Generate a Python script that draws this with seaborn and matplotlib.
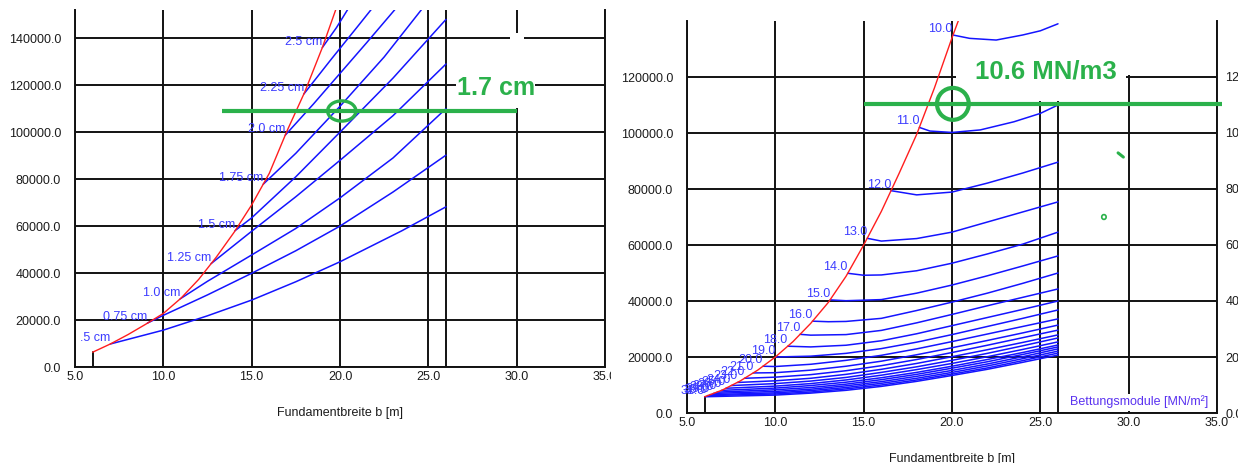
import matplotlib
matplotlib.use("Agg")
import matplotlib.pyplot as plt
from matplotlib.patches import Ellipse, Rectangle
import seaborn as sns

# ---------------------------------------------------------------- axes ticks
x_ticks = [5, 10, 15, 20, 25, 30, 35]
left_y_ticks = [0, 20000, 40000, 60000, 80000, 100000, 120000, 140000]
right_y_ticks = [0, 20000, 40000, 60000, 80000, 100000, 120000]
edge_b = 26.0          # largest foundation width in the tables
min_b = 6.0            # smallest foundation width in the tables

# ------------------------------------------- left chart: settlement iso-lines
left_limit_b = [6.0, 7.0, 8.0, 9.0, 10.0, 11.0, 12.0, 13.0, 14.0, 15.0, 16.0,
                17.0, 18.0, 19.0, 19.8]
left_limit_q = [6300, 9800, 13800, 18200, 22800, 29300, 37300, 46800, 57300,
                69000, 82500, 100500, 117000, 136000, 153000]

settle_labels = [".5 cm", "0.75 cm", "1.0 cm", "1.25 cm", "1.5 cm",
                 "1.75 cm", "2.0 cm", "2.25 cm", "2.5 cm"]
settle_b = [
    [7.0, 10.0, 12.5, 15.0, 17.5, 20.0, 23.5, 26.0],
    [9.1, 10.0, 12.5, 15.0, 17.5, 20.0, 23.0, 26.0],
    [10.95, 12.5, 15.0, 17.5, 20.0, 23.0, 26.0],
    [12.7, 15.0, 17.5, 20.0, 23.0, 26.0],
    [14.05, 15.0, 17.5, 20.0, 23.0, 26.0],
    [15.65, 17.5, 20.0, 22.5, 24.7],
    [16.9, 18.5, 20.0, 21.5, 23.2],
    [17.95, 19.5, 21.0, 21.85],
    [19.0, 19.8, 20.5],
]
settle_q = [
    [9800, 15700, 21800, 28500, 36300, 44800, 58000, 68200],
    [18700, 22000, 30700, 39900, 49500, 60000, 74500, 90200],
    [29000, 36500, 47700, 59000, 72000, 89000, 110000],
    [44000, 57800, 72500, 88000, 107000, 129000],
    [58000, 63500, 81000, 100000, 123000, 148000],
    [77800, 91000, 111000, 132000, 153000],
    [98700, 112000, 125000, 138000, 153000],
    [116200, 131000, 145000, 153000],
    [136000, 144500, 153000],
]
read_b_left = 20.1
read_q_left = 109000
read_line_left = [13.3, 30.0]
read_text_left = "1.7 cm"

# ------------------------------------- right chart: subgrade modulus iso-lines
right_limit_b = [6.0, 7.0, 8.0, 9.0, 10.0, 11.0, 12.0, 13.0, 14.0, 15.0, 16.0,
                 17.0, 18.0, 19.0, 20.0, 20.5]
right_limit_q = [5800, 8200, 11400, 15300, 20000, 25500, 32000, 39500, 48800,
                 60000, 72000, 85500, 99500, 116000, 134000, 142500]

ks_values = [10.0, 11.0, 12.0, 13.0, 14.0, 15.0, 16.0, 17.0, 18.0, 19.0, 20.0,
             21.0, 22.0, 23.0, 24.0, 25.0, 26.0, 27.0, 28.0, 29.0, 30.0, 31.0]
ks_b = [
    [20.05, 21.0, 22.5, 24.0, 25.0, 26.0],
    [18.15, 18.75, 20.0, 21.6, 23.5, 25.0, 26.0],
    [16.55, 18.0, 20.0, 22.0, 24.0, 26.0],
    [15.2, 16.0, 18.0, 20.0, 22.0, 24.0, 26.0],
    [14.1, 15.0, 16.0, 18.0, 20.0, 22.0, 24.0, 26.0],
    [13.1, 14.0, 16.0, 18.0, 20.0, 22.0, 24.0, 26.0],
    [12.1, 13.0, 14.0, 16.0, 18.0, 20.0, 22.0, 24.0, 26.0],
    [11.4, 12.0, 14.0, 16.0, 18.0, 20.0, 22.0, 24.0, 26.0],
    [10.7, 12.0, 14.0, 16.0, 18.0, 20.0, 22.0, 24.0, 26.0],
    [10.0, 12.0, 14.0, 16.0, 18.0, 20.0, 22.0, 24.0, 26.0],
    [9.3, 10.0, 12.0, 14.0, 16.0, 18.0, 20.0, 22.0, 24.0, 26.0],
    [8.75, 10.0, 12.0, 14.0, 16.0, 18.0, 20.0, 22.0, 24.0, 26.0],
    [8.25, 10.0, 12.0, 14.0, 16.0, 18.0, 20.0, 22.0, 24.0, 26.0],
    [7.85, 10.0, 12.0, 14.0, 16.0, 18.0, 20.0, 22.0, 24.0, 26.0],
    [7.5, 10.0, 12.0, 14.0, 16.0, 18.0, 20.0, 22.0, 24.0, 26.0],
    [7.2, 10.0, 12.0, 14.0, 16.0, 18.0, 20.0, 22.0, 24.0, 26.0],
    [6.95, 10.0, 12.0, 14.0, 16.0, 18.0, 20.0, 22.0, 24.0, 26.0],
    [6.7, 10.0, 12.0, 14.0, 16.0, 18.0, 20.0, 22.0, 24.0, 26.0],
    [6.5, 10.0, 12.0, 14.0, 16.0, 18.0, 20.0, 22.0, 24.0, 26.0],
    [6.3, 10.0, 12.0, 14.0, 16.0, 18.0, 20.0, 22.0, 24.0, 26.0],
    [6.15, 10.0, 12.0, 14.0, 16.0, 18.0, 20.0, 22.0, 24.0, 26.0],
    [6.0, 10.0, 12.0, 14.0, 16.0, 18.0, 20.0, 22.0, 24.0, 26.0],
]
ks_q = [
    [135000, 133800, 133200, 135000, 136500, 139000],
    [102000, 100700, 100200, 101100, 104000, 107000, 110000],
    [79400, 77900, 78900, 82100, 85700, 89600],
    [62400, 61400, 62300, 64600, 68200, 71800, 75400],
    [49900, 49200, 49300, 50800, 53500, 56800, 60300, 64600],
    [40400, 40100, 40500, 42800, 45700, 49000, 52500, 56100],
    [32800, 32600, 32700, 33800, 36600, 39600, 42800, 46300, 50000],
    [28100, 27800, 28000, 29500, 32200, 35200, 38300, 41300, 44300],
    [23850, 23600, 24200, 25800, 28300, 31200, 34100, 37000, 40000],
    [20000, 20300, 21300, 23000, 25300, 28000, 30900, 33800, 36800],
    [16700, 16600, 17400, 18800, 20600, 22900, 25500, 28200, 30900, 33600],
    [14300, 14400, 15300, 16700, 18500, 20800, 23300, 25900, 28600, 31400],
    [12400, 12800, 13700, 15100, 16900, 19100, 21600, 24200, 26900, 29600],
    [10900, 11500, 12400, 13800, 15600, 17700, 20100, 22600, 25200, 27900],
    [9800, 10500, 11400, 12700, 14500, 16500, 18800, 21300, 24000, 26800],
    [8840, 9600, 10500, 11800, 13500, 15500, 17700, 20100, 22700, 25400],
    [8080, 8900, 9800, 11000, 12600, 14500, 16700, 19100, 21600, 24300],
    [7450, 8300, 9100, 10300, 11900, 13800, 16000, 18300, 20900, 23600],
    [7000, 7700, 8500, 9700, 11200, 13100, 15200, 17500, 20100, 22900],
    [6550, 7200, 8000, 9100, 10600, 12400, 14500, 16800, 19400, 22100],
    [6200, 6800, 7500, 8600, 10000, 11800, 13900, 16100, 18700, 21400],
    [5800, 6400, 7100, 8100, 9500, 11300, 13400, 15600, 18100, 20700],
]
read_b_right = 20.05
read_q_right = 110400
read_line_right = [15.0, 35.3]
read_text_right = "10.6 MN/m3"
stray_mark_ring = (28.6, 70000)
stray_mark_dash_b = [29.4, 29.7]
stray_mark_dash_q = [92900, 91400]

# ------------------------------------------------------------------- styling
sns.set_theme(style="white")
plt.rcParams["font.family"] = ["Liberation Sans", "DejaVu Sans"]

W, H = 1247, 463
BLUE = "#1414ff"
LABEL_BLUE = "#3c3cff"
RED = "#ff1e1e"
GREEN = "#2bb14b"
GRID = "#121212"
TXT = "#1c1c1c"

fig = plt.figure(figsize=(W / 100, H / 100), dpi=100)
fig.patch.set_facecolor("white")
ax_l = fig.add_axes([75 / W, (H - 367) / H, 530 / W, 357 / H])
ax_r = fig.add_axes([687 / W, (H - 413) / H, 530 / W, 392 / H])


def frame(ax, ymax, yticks):
    ax.set_facecolor("white")
    ax.set_xlim(5, 35)
    ax.set_ylim(0, ymax)
    ax.set_xticks(x_ticks)
    ax.set_xticklabels([f"{v:.1f}" for v in x_ticks])
    ax.set_yticks(yticks)
    ax.set_yticklabels([f"{v:.1f}" for v in yticks])
    ax.grid(True, color=GRID, linewidth=1.4)
    ax.set_axisbelow(True)
    for side in ("left", "bottom", "right"):
        ax.spines[side].set_visible(True)
        ax.spines[side].set_color(GRID)
        ax.spines[side].set_linewidth(1.4)
    ax.spines["top"].set_visible(False)
    ax.tick_params(axis="both", length=0, labelsize=9, colors=TXT)
    ax.tick_params(axis="x", pad=3)
    ax.tick_params(axis="y", pad=10)
    ax.axvline(edge_b, color=GRID, linewidth=1.4, zorder=0.6)
    ax.set_xlabel("Fundamentbreite b [m]", fontsize=9, color=TXT, labelpad=17)


frame(ax_l, 152000, left_y_ticks)
frame(ax_r, 140000, right_y_ticks)

# right-hand value scale of the modulus chart
ax_r2 = ax_r.twinx()
ax_r2.set_ylim(ax_r.get_ylim())
ax_r2.set_yticks(right_y_ticks)
ax_r2.set_yticklabels([f"{v:.1f}" for v in right_y_ticks])
ax_r2.tick_params(axis="y", length=0, labelsize=9, colors=TXT, pad=6)
ax_r2.grid(False)
for s in ax_r2.spines.values():
    s.set_visible(False)

# ------------------------------------------------------------- left drawing
ax_l.plot([min_b, min_b], [0, left_limit_q[0]], color=GRID, lw=1.4, zorder=1)
for b, q, lab in zip(settle_b, settle_q, settle_labels):
    sns.lineplot(x=b, y=q, ax=ax_l, color=BLUE, linewidth=1.1, sort=False,
                 estimator=None, legend=False, zorder=2)
    ax_l.text(b[0], q[0], lab, ha="right", va="bottom", fontsize=9,
              color=LABEL_BLUE, zorder=3)
sns.lineplot(x=left_limit_b, y=left_limit_q, ax=ax_l, color=RED, linewidth=1.0,
             sort=False, estimator=None, legend=False, zorder=2.5)

# cleared patch in the upper right corner of the settlement chart
ax_l.add_patch(Rectangle((29.6, 110200), 0.8, 31900, facecolor="white",
                         edgecolor="none", zorder=0.8))
ax_l.plot(read_line_left, [read_q_left, read_q_left], color=GREEN, lw=3.0,
          solid_capstyle="butt", zorder=5)
ax_l.add_patch(Ellipse((read_b_left, read_q_left), 1.6, 8600, fill=False,
                       edgecolor=GREEN, lw=2.4, zorder=6))
ax_l.text(26.6, 118700, read_text_left, ha="left", va="center", fontsize=18,
          fontweight="bold", color=GREEN, zorder=6,
          bbox=dict(facecolor="white", edgecolor="none", pad=0.5))

# ------------------------------------------------------------ right drawing
ax_r.plot([min_b, min_b], [0, right_limit_q[0]], color=GRID, lw=1.4, zorder=1)
# cleared area behind the read-off value
ax_r.add_patch(Rectangle((20.2, 111500), 9.65, 28500, facecolor="white",
                         edgecolor="none", zorder=0.8))
ax_r.add_patch(Rectangle((29.85, 120600), 0.35, 19400, facecolor="white",
                         edgecolor="none", zorder=0.8))
for b, q, k in zip(ks_b, ks_q, ks_values):
    sns.lineplot(x=b, y=q, ax=ax_r, color=BLUE, linewidth=1.1, sort=False,
                 estimator=None, legend=False, zorder=2)
    ax_r.text(b[0], q[0], f"{k:.1f}", ha="right", va="bottom", fontsize=9,
              color=LABEL_BLUE, zorder=3)
sns.lineplot(x=right_limit_b, y=right_limit_q, ax=ax_r, color=RED,
             linewidth=1.0, sort=False, estimator=None, legend=False, zorder=2.5)

ax_r.plot(read_line_right, [read_q_right, read_q_right], color=GREEN, lw=3.0,
          solid_capstyle="butt", zorder=5, clip_on=False)
ax_r.add_patch(Ellipse((read_b_right, read_q_right), 1.8, 11400, fill=False,
                       edgecolor=GREEN, lw=3.0, zorder=6))
ax_r.text(21.3, 122000, read_text_right, ha="left", va="center", fontsize=18.5,
          fontweight="bold", color=GREEN, zorder=6)
ax_r.add_patch(Ellipse(stray_mark_ring, 0.25, 1700, fill=False,
                       edgecolor=GREEN, lw=1.2, zorder=6))
ax_r.plot(stray_mark_dash_b, stray_mark_dash_q, color=GREEN, lw=2.2, zorder=6)
ax_r.text(34.5, 3900, "Bettungsmodule [MN/m²]", ha="right", va="center",
          fontsize=9, color="#5a32f0", zorder=6,
          bbox=dict(facecolor="white", edgecolor="none", pad=1.5))

# white seams between and after the two charts
fig.add_artist(Rectangle((611 / W, 0), 8 / W, 1, transform=fig.transFigure,
                         facecolor="white", edgecolor="none", zorder=20))
fig.add_artist(Rectangle((1238 / W, 0), 9 / W, 1, transform=fig.transFigure,
                         facecolor="white", edgecolor="none", zorder=20))

fig.savefig("out.png", dpi=100, facecolor="white")
